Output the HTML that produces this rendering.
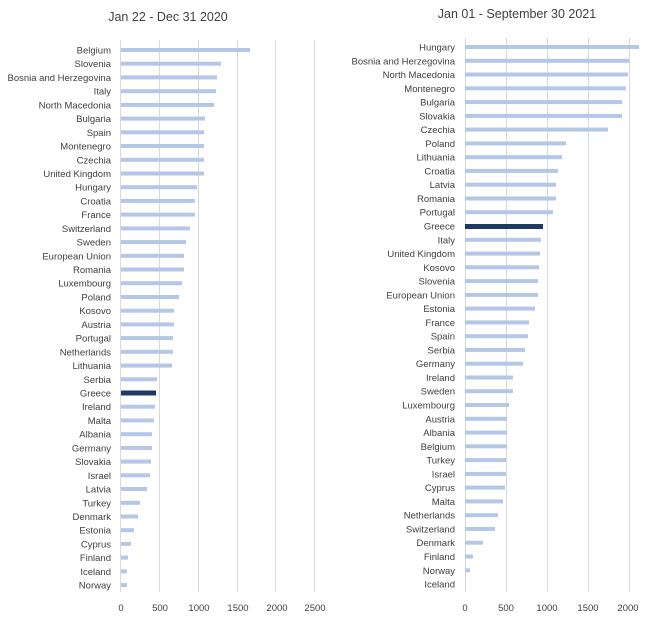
<!DOCTYPE html>
<html><head><meta charset="utf-8"><style>
body{margin:0;background:#fff}
svg{display:block}
text{font-family:"Liberation Sans",sans-serif;fill:#404040}
.l{font-size:9.5px;text-anchor:end}
.t{font-size:9.5px;text-anchor:middle}
.h{font-size:12.5px;text-anchor:middle}
</style></head><body>
<svg width="650" height="618" viewBox="0 0 650 618">
<g stroke="#d9d9d9" stroke-width="1">
<line x1="120.5" y1="40" x2="120.5" y2="592"/><line x1="159.5" y1="40" x2="159.5" y2="592"/><line x1="198.5" y1="40" x2="198.5" y2="592"/><line x1="237.5" y1="40" x2="237.5" y2="592"/><line x1="275.5" y1="40" x2="275.5" y2="592"/><line x1="314.5" y1="40" x2="314.5" y2="592"/>
<line x1="465.5" y1="38" x2="465.5" y2="592"/><line x1="506.5" y1="38" x2="506.5" y2="592"/><line x1="547.5" y1="38" x2="547.5" y2="592"/><line x1="588.5" y1="38" x2="588.5" y2="592"/><line x1="629.5" y1="38" x2="629.5" y2="592"/>
</g>
<text class="h" x="168" y="21">Jan 22 - Dec 31 2020</text>
<text class="h" x="517" y="18">Jan 01 - September 30 2021</text>
<g>
<text class="t" x="121" y="611">0</text><text class="t" x="160" y="611">500</text><text class="t" x="199" y="611">1000</text><text class="t" x="238" y="611">1500</text><text class="t" x="277" y="611">2000</text><text class="t" x="315" y="611">2500</text>
<text class="t" x="465" y="611">0</text><text class="t" x="506" y="611">500</text><text class="t" x="547" y="611">1000</text><text class="t" x="588" y="611">1500</text><text class="t" x="628" y="611">2000</text>
</g>
<g fill="#b4c7e7">
<rect x="121" y="48" width="129" height="4"/>
<rect x="121" y="61.7" width="100" height="4"/>
<rect x="121" y="75.4" width="96" height="4"/>
<rect x="121" y="89.2" width="95" height="4"/>
<rect x="121" y="102.9" width="93" height="4"/>
<rect x="121" y="116.6" width="84" height="4"/>
<rect x="121" y="130.3" width="83" height="4"/>
<rect x="121" y="144" width="83" height="4"/>
<rect x="121" y="157.8" width="83" height="4"/>
<rect x="121" y="171.5" width="83" height="4"/>
<rect x="121" y="185.2" width="76" height="4"/>
<rect x="121" y="198.9" width="74" height="4"/>
<rect x="121" y="212.6" width="74" height="4"/>
<rect x="121" y="226.4" width="69" height="4"/>
<rect x="121" y="240.1" width="65" height="4"/>
<rect x="121" y="253.8" width="63" height="4"/>
<rect x="121" y="267.5" width="63" height="4"/>
<rect x="121" y="281.2" width="61" height="4"/>
<rect x="121" y="295" width="58" height="4"/>
<rect x="121" y="308.7" width="53" height="4"/>
<rect x="121" y="322.4" width="53" height="4"/>
<rect x="121" y="336.1" width="52" height="4"/>
<rect x="121" y="349.8" width="52" height="4"/>
<rect x="121" y="363.6" width="51" height="4"/>
<rect x="121" y="377.3" width="36" height="4"/>
<rect x="121" y="390.5" width="35" height="5" fill="#203864"/>
<rect x="121" y="404.7" width="34" height="4"/>
<rect x="121" y="418.4" width="33" height="4"/>
<rect x="121" y="432.2" width="31" height="4"/>
<rect x="121" y="445.9" width="31" height="4"/>
<rect x="121" y="459.6" width="30" height="4"/>
<rect x="121" y="473.3" width="29" height="4"/>
<rect x="121" y="487" width="26" height="4"/>
<rect x="121" y="500.8" width="19" height="4"/>
<rect x="121" y="514.5" width="17" height="4"/>
<rect x="121" y="528.2" width="13" height="4"/>
<rect x="121" y="541.9" width="10" height="4"/>
<rect x="121" y="555.6" width="7" height="4"/>
<rect x="121" y="569.4" width="6" height="4"/>
<rect x="121" y="583.1" width="6" height="4"/>
</g>
<g>
<text class="l" x="111" y="53.5">Belgium</text>
<text class="l" x="111" y="67.2">Slovenia</text>
<text class="l" x="111" y="80.9">Bosnia and Herzegovina</text>
<text class="l" x="111" y="94.7">Italy</text>
<text class="l" x="111" y="108.4">North Macedonia</text>
<text class="l" x="111" y="122.1">Bulgaria</text>
<text class="l" x="111" y="135.8">Spain</text>
<text class="l" x="111" y="149.5">Montenegro</text>
<text class="l" x="111" y="163.3">Czechia</text>
<text class="l" x="111" y="177">United Kingdom</text>
<text class="l" x="111" y="190.7">Hungary</text>
<text class="l" x="111" y="204.4">Croatia</text>
<text class="l" x="111" y="218.1">France</text>
<text class="l" x="111" y="231.9">Switzerland</text>
<text class="l" x="111" y="245.6">Sweden</text>
<text class="l" x="111" y="259.3">European Union</text>
<text class="l" x="111" y="273">Romania</text>
<text class="l" x="111" y="286.7">Luxembourg</text>
<text class="l" x="111" y="300.5">Poland</text>
<text class="l" x="111" y="314.2">Kosovo</text>
<text class="l" x="111" y="327.9">Austria</text>
<text class="l" x="111" y="341.6">Portugal</text>
<text class="l" x="111" y="355.3">Netherlands</text>
<text class="l" x="111" y="369.1">Lithuania</text>
<text class="l" x="111" y="382.8">Serbia</text>
<text class="l" x="111" y="396.5">Greece</text>
<text class="l" x="111" y="410.2">Ireland</text>
<text class="l" x="111" y="423.9">Malta</text>
<text class="l" x="111" y="437.7">Albania</text>
<text class="l" x="111" y="451.4">Germany</text>
<text class="l" x="111" y="465.1">Slovakia</text>
<text class="l" x="111" y="478.8">Israel</text>
<text class="l" x="111" y="492.5">Latvia</text>
<text class="l" x="111" y="506.3">Turkey</text>
<text class="l" x="111" y="520">Denmark</text>
<text class="l" x="111" y="533.7">Estonia</text>
<text class="l" x="111" y="547.4">Cyprus</text>
<text class="l" x="111" y="561.1">Finland</text>
<text class="l" x="111" y="574.9">Iceland</text>
<text class="l" x="111" y="588.6">Norway</text>
</g>
<g fill="#b4c7e7">
<rect x="465" y="45" width="174" height="4"/>
<rect x="465" y="58.8" width="164" height="4"/>
<rect x="465" y="72.5" width="163" height="4"/>
<rect x="465" y="86.3" width="161" height="4"/>
<rect x="465" y="100.1" width="157" height="4"/>
<rect x="465" y="113.9" width="157" height="4"/>
<rect x="465" y="127.6" width="143" height="4"/>
<rect x="465" y="141.4" width="101" height="4"/>
<rect x="465" y="155.2" width="97" height="4"/>
<rect x="465" y="168.9" width="93" height="4"/>
<rect x="465" y="182.7" width="91" height="4"/>
<rect x="465" y="196.5" width="91" height="4"/>
<rect x="465" y="210.2" width="88" height="4"/>
<rect x="465" y="224" width="78" height="5" fill="#203864"/>
<rect x="465" y="237.8" width="76" height="4"/>
<rect x="465" y="251.6" width="75" height="4"/>
<rect x="465" y="265.3" width="74" height="4"/>
<rect x="465" y="279.1" width="73" height="4"/>
<rect x="465" y="292.9" width="73" height="4"/>
<rect x="465" y="306.6" width="70" height="4"/>
<rect x="465" y="320.4" width="64" height="4"/>
<rect x="465" y="334.2" width="63" height="4"/>
<rect x="465" y="347.9" width="60" height="4"/>
<rect x="465" y="361.7" width="58" height="4"/>
<rect x="465" y="375.5" width="48" height="4"/>
<rect x="465" y="389.2" width="48" height="4"/>
<rect x="465" y="403" width="44" height="4"/>
<rect x="465" y="416.8" width="42" height="4"/>
<rect x="465" y="430.6" width="42" height="4"/>
<rect x="465" y="444.3" width="42" height="4"/>
<rect x="465" y="458.1" width="41" height="4"/>
<rect x="465" y="471.9" width="41" height="4"/>
<rect x="465" y="485.6" width="40" height="4"/>
<rect x="465" y="499.4" width="38" height="4"/>
<rect x="465" y="513.2" width="33" height="4"/>
<rect x="465" y="526.9" width="30" height="4"/>
<rect x="465" y="540.7" width="18" height="4"/>
<rect x="465" y="554.5" width="8" height="4"/>
<rect x="465" y="568.3" width="5" height="4"/>
</g>
<g>
<text class="l" x="455" y="50.5">Hungary</text>
<text class="l" x="455" y="64.3">Bosnia and Herzegovina</text>
<text class="l" x="455" y="78">North Macedonia</text>
<text class="l" x="455" y="91.8">Montenegro</text>
<text class="l" x="455" y="105.6">Bulgaria</text>
<text class="l" x="455" y="119.4">Slovakia</text>
<text class="l" x="455" y="133.1">Czechia</text>
<text class="l" x="455" y="146.9">Poland</text>
<text class="l" x="455" y="160.7">Lithuania</text>
<text class="l" x="455" y="174.4">Croatia</text>
<text class="l" x="455" y="188.2">Latvia</text>
<text class="l" x="455" y="202">Romania</text>
<text class="l" x="455" y="215.7">Portugal</text>
<text class="l" x="455" y="229.5">Greece</text>
<text class="l" x="455" y="243.3">Italy</text>
<text class="l" x="455" y="257.1">United Kingdom</text>
<text class="l" x="455" y="270.8">Kosovo</text>
<text class="l" x="455" y="284.6">Slovenia</text>
<text class="l" x="455" y="298.4">European Union</text>
<text class="l" x="455" y="312.1">Estonia</text>
<text class="l" x="455" y="325.9">France</text>
<text class="l" x="455" y="339.7">Spain</text>
<text class="l" x="455" y="353.4">Serbia</text>
<text class="l" x="455" y="367.2">Germany</text>
<text class="l" x="455" y="381">Ireland</text>
<text class="l" x="455" y="394.7">Sweden</text>
<text class="l" x="455" y="408.5">Luxembourg</text>
<text class="l" x="455" y="422.3">Austria</text>
<text class="l" x="455" y="436.1">Albania</text>
<text class="l" x="455" y="449.8">Belgium</text>
<text class="l" x="455" y="463.6">Turkey</text>
<text class="l" x="455" y="477.4">Israel</text>
<text class="l" x="455" y="491.1">Cyprus</text>
<text class="l" x="455" y="504.9">Malta</text>
<text class="l" x="455" y="518.7">Netherlands</text>
<text class="l" x="455" y="532.4">Switzerland</text>
<text class="l" x="455" y="546.2">Denmark</text>
<text class="l" x="455" y="560">Finland</text>
<text class="l" x="455" y="573.8">Norway</text>
<text class="l" x="455" y="587.5">Iceland</text>
</g>
</svg>
</body></html>
